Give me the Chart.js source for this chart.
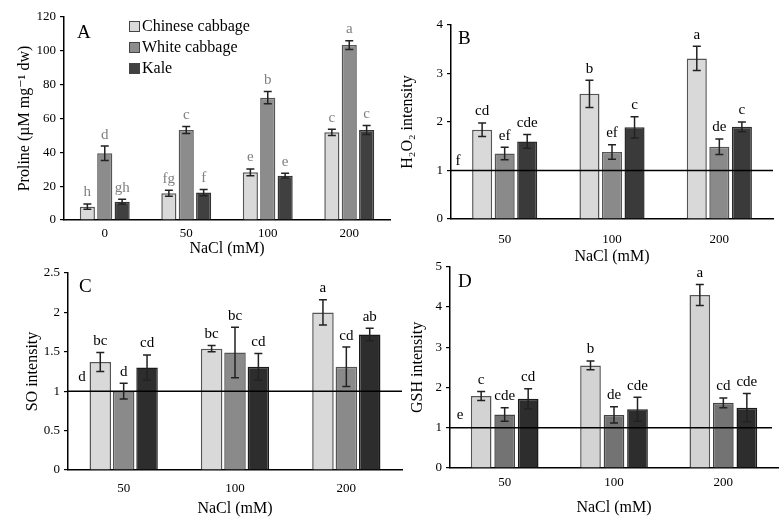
<!DOCTYPE html>
<html>
<head>
<meta charset="utf-8">
<script src="https://cdn.jsdelivr.net/npm/chart.js@4.4.1/dist/chart.umd.min.js"></script>
<style>
body { margin: 0; background: #fff; width: 784px; height: 523px; position: relative; overflow: hidden; }
canvas { position: absolute; }
</style>
</head>
<body>
<canvas id="cA" width="392" height="262" style="left:0;top:0"></canvas>
<canvas id="cB" width="392" height="268" style="left:392px;top:0"></canvas>
<canvas id="cC" width="405" height="265" style="left:0;top:258px"></canvas>
<canvas id="cD" width="392" height="268" style="left:392px;top:255px"></canvas>
<script>
// categories
var dosesA = ['0', '50', '100', '200'];
var dosesStress = ['50', '100', '200'];
var seriesNames = ['Chinese cabbage', 'White cabbage', 'Kale'];

// A - proline
var prolineChinese = [7.9, 15.8, 28.2, 51.8];
var prolineChineseErr = [1.6, 1.8, 2.0, 1.8];
var prolineChineseLet = ['h', 'fg', 'e', 'c'];
var prolineWhite = [39.4, 53.2, 72.3, 103.4];
var prolineWhiteErr = [4.3, 2.0, 3.6, 2.6];
var prolineWhiteLet = ['d', 'c', 'b', 'a'];
var prolineKale = [10.8, 16.2, 26.2, 53.2];
var prolineKaleErr = [1.4, 1.8, 1.4, 2.6];
var prolineKaleLet = ['gh', 'f', 'e', 'c'];

// B - H2O2
var h2o2Chinese = [1.84, 2.58, 3.31];
var h2o2ChineseErr = [0.14, 0.28, 0.25];
var h2o2ChineseLet = ['cd', 'b', 'a'];
var h2o2White = [1.35, 1.38, 1.49];
var h2o2WhiteErr = [0.13, 0.15, 0.16];
var h2o2WhiteLet = ['ef', 'ef', 'de'];
var h2o2Kale = [1.6, 1.89, 1.9];
var h2o2KaleErr = [0.14, 0.22, 0.1];
var h2o2KaleLet = ['cde', 'c', 'c'];

// C - SO
var soChinese = [1.37, 1.54, 2.0];
var soChineseErr = [0.12, 0.04, 0.16];
var soChineseLet = ['bc', 'bc', 'a'];
var soWhite = [1.0, 1.49, 1.31];
var soWhiteErr = [0.1, 0.32, 0.25];
var soWhiteLet = ['d', 'bc', 'cd'];
var soKale = [1.3, 1.31, 1.72];
var soKaleErr = [0.16, 0.17, 0.08];
var soKaleLet = ['cd', 'cd', 'ab'];

// D - GSH
var gshChinese = [1.79, 2.55, 4.3];
var gshChineseErr = [0.11, 0.11, 0.26];
var gshChineseLet = ['c', 'b', 'a'];
var gshWhite = [1.33, 1.32, 1.62];
var gshWhiteErr = [0.17, 0.2, 0.12];
var gshWhiteLet = ['cde', 'de', 'cd'];
var gshKale = [1.72, 1.46, 1.5];
var gshKaleErr = [0.25, 0.3, 0.35];
var gshKaleLet = ['cd', 'cde', 'cde'];

var FONT = "'Liberation Serif', 'DejaVu Serif', serif";

var extras = {
    id: 'extras',
    afterDatasetsDraw: function (chart) {
        var o = chart.options.plugins.extras;
        var ctx = chart.ctx;
        var ys = chart.scales.y;
        var area = chart.chartArea;
        ctx.save();

        // reference line at 1
        if (o.refLine) {
            var yl = ys.getPixelForValue(1);
            ctx.strokeStyle = '#000';
            ctx.lineWidth = 1.5;
            ctx.beginPath();
            ctx.moveTo(area.left, yl);
            ctx.lineTo(area.right + (o.refExtend || 0), yl);
            ctx.stroke();
        }

        // error bars + letters
        chart.data.datasets.forEach(function (ds, i) {
            var meta = chart.getDatasetMeta(i);
            meta.data.forEach(function (bar, j) {
                var v = ds.data[j], e = ds.errors[j];
                var yTop = ys.getPixelForValue(v + e);
                var yBot = ys.getPixelForValue(v - e);
                ctx.strokeStyle = '#222';
                ctx.lineWidth = 1.5;
                ctx.beginPath();
                ctx.moveTo(bar.x, yTop); ctx.lineTo(bar.x, yBot);
                ctx.moveTo(bar.x - 4, yTop); ctx.lineTo(bar.x + 4, yTop);
                ctx.moveTo(bar.x - 4, yBot); ctx.lineTo(bar.x + 4, yBot);
                ctx.stroke();
                ctx.fillStyle = o.letterColor;
                ctx.font = '15px ' + FONT;
                ctx.textAlign = 'center';
                ctx.textBaseline = 'bottom';
                ctx.fillText(ds.letters[j], bar.x, yTop - 4);
            });
        });

        // control letter near line
        if (o.controlLetter) {
            ctx.fillStyle = '#000';
            ctx.font = '15px ' + FONT;
            ctx.textAlign = 'center';
            ctx.textBaseline = 'bottom';
            ctx.fillText(o.controlLetter, area.left + o.controlDx, ys.getPixelForValue(1) - o.controlDy);
        }

        // panel letter
        ctx.fillStyle = '#000';
        ctx.font = '19px ' + FONT;
        ctx.textAlign = 'left';
        ctx.textBaseline = 'top';
        ctx.fillText(o.panel, area.left + o.panelDx, area.top + o.panelDy);

        // legend
        if (o.legend) {
            chart.data.datasets.forEach(function (ds, i) {
                var lx = 129, ly = 21 + i * 21;
                ctx.fillStyle = ds.backgroundColor;
                ctx.fillRect(lx, ly, 11, 11);
                ctx.strokeStyle = '#444';
                ctx.lineWidth = 1;
                ctx.strokeRect(lx + 0.5, ly + 0.5, 10, 10);
                ctx.fillStyle = '#000';
                ctx.font = '16px ' + FONT;
                ctx.textAlign = 'left';
                ctx.textBaseline = 'middle';
                ctx.fillText(ds.label, lx + 13, ly + 6);
            });
        }
        ctx.restore();
    }
};

function makeSet(label, data, errors, letters, color, border) {
    return {
        label: label,
        data: data,
        errors: errors,
        letters: letters,
        backgroundColor: color,
        borderColor: border,
        borderWidth: 1.5
    };
}

function buildPanel(id, p) {
    var ctx = document.getElementById(id).getContext('2d');
    return new Chart(ctx, {
        type: 'bar',
        data: { labels: p.labels, datasets: p.datasets },
        options: {
            responsive: false,
            animation: false,
            devicePixelRatio: 1,
            layout: { padding: { top: p.top, right: p.right, left: 0, bottom: 0 } },
            datasets: { bar: { categoryPercentage: p.catPct, barPercentage: p.barPct } },
            plugins: {
                legend: { display: false },
                tooltip: { enabled: false },
                extras: p.extras
            },
            scales: {
                x: {
                    grid: { display: false, drawTicks: false },
                    border: { display: true, color: '#000', width: 1.5 },
                    ticks: { color: '#000', padding: p.xTickPad, font: { family: FONT, size: 13 } },
                    title: {
                        display: true, text: 'NaCl (mM)', color: '#000',
                        font: { family: FONT, size: 16 }, padding: { top: 0, bottom: p.xTitlePad }
                    },
                    afterFit: function (s) { s.height = p.xHeight; }
                },
                y: {
                    min: 0, max: p.yMax,
                    grid: { drawOnChartArea: false, drawTicks: true, tickLength: 4, color: '#000', lineWidth: 1.2 },
                    border: { display: true, color: '#000', width: 1.5 },
                    ticks: {
                        stepSize: p.yStep, color: '#000', padding: 4, font: { family: FONT, size: 13 },
                        callback: function (v) { return String(Math.round(v * 100) / 100); }
                    },
                    title: {
                        display: true, text: p.yTitle, color: '#000',
                        font: { family: FONT, size: 16 }, padding: { top: p.yTitlePad, bottom: 0 }
                    },
                    afterFit: function (s) { s.width = p.yWidth; }
                }
            }
        },
        plugins: [extras]
    });
}

buildPanel('cA', {
    labels: dosesA,
    datasets: [
        makeSet(seriesNames[0], prolineChinese, prolineChineseErr, prolineChineseLet, '#d9d9d9', '#555'),
        makeSet(seriesNames[1], prolineWhite, prolineWhiteErr, prolineWhiteLet, '#8c8c8c', '#555'),
        makeSet(seriesNames[2], prolineKale, prolineKaleErr, prolineKaleLet, '#404040', '#333')
    ],
    yMax: 120, yStep: 20, yTitle: 'Proline (µM mg⁻¹ dw)',
    top: 17, right: 2, yWidth: 64, xHeight: 42,
    xTickPad: 6, xTitlePad: 4, yTitlePad: 15,
    catPct: 0.64, barPct: 0.87,
    extras: { letterColor: '#808080', refLine: false, panel: 'A', panelDx: 13, panelDy: 7, legend: true }
});

buildPanel('cB', {
    labels: dosesStress,
    datasets: [
        makeSet(seriesNames[0], h2o2Chinese, h2o2ChineseErr, h2o2ChineseLet, '#d9d9d9', '#555'),
        makeSet(seriesNames[1], h2o2White, h2o2WhiteErr, h2o2WhiteLet, '#8a8a8a', '#555'),
        makeSet(seriesNames[2], h2o2Kale, h2o2KaleErr, h2o2KaleLet, '#3a3a3a', '#2a2a2a')
    ],
    yMax: 4, yStep: 1, yTitle: 'H₂O₂ intensity',
    top: 25, right: 11, yWidth: 59, xHeight: 49,
    xTickPad: 13, xTitlePad: 2, yTitlePad: 6,
    catPct: 0.63, barPct: 0.89,
    extras: { letterColor: '#000', refLine: true, refExtend: 0, controlLetter: 'f', controlDx: 7, controlDy: 2,
        panel: 'B', panelDx: 7, panelDy: 5, legend: false }
});

buildPanel('cC', {
    labels: dosesStress,
    datasets: [
        makeSet(seriesNames[0], soChinese, soChineseErr, soChineseLet, '#d9d9d9', '#555'),
        makeSet(seriesNames[1], soWhite, soWhiteErr, soWhiteLet, '#8a8a8a', '#555'),
        makeSet(seriesNames[2], soKale, soKaleErr, soKaleLet, '#2d2d2d', '#1a1a1a')
    ],
    yMax: 2.5, yStep: 0.5, yTitle: 'SO intensity',
    top: 15, right: 3, yWidth: 68, xHeight: 53,
    xTickPad: 11, xTitlePad: 5, yTitlePad: 23,
    catPct: 0.63, barPct: 0.92,
    extras: { letterColor: '#000', refLine: true, refExtend: 0, controlLetter: 'd', controlDx: 14, controlDy: 7,
        panel: 'C', panelDx: 11, panelDy: 5, legend: false }
});

buildPanel('cD', {
    labels: dosesStress,
    datasets: [
        makeSet(seriesNames[0], gshChinese, gshChineseErr, gshChineseLet, '#d3d3d3', '#555'),
        makeSet(seriesNames[1], gshWhite, gshWhiteErr, gshWhiteLet, '#737373', '#444'),
        makeSet(seriesNames[2], gshKale, gshKaleErr, gshKaleLet, '#2d2d2d', '#1a1a1a')
    ],
    yMax: 5, yStep: 1, yTitle: 'GSH intensity',
    top: 11, right: 6, yWidth: 58, xHeight: 55,
    xTickPad: 7, xTitlePad: 6, yTitlePad: 16,
    catPct: 0.645, barPct: 0.88,
    extras: { letterColor: '#000', refLine: true, refExtend: -6, controlLetter: 'e', controlDx: 10, controlDy: 5,
        panel: 'D', panelDx: 8, panelDy: 6, legend: false }
});
</script>
</body>
</html>
